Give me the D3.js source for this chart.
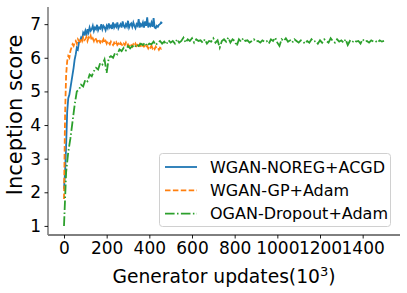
<!DOCTYPE html>
<html><head><meta charset="utf-8">
<script src="https://cdn.jsdelivr.net/npm/d3@7"></script>
<style>body{margin:0;background:#fff}svg{display:block;font-family:"DejaVu Sans",sans-serif}</style>
</head><body><svg id="c" width="407" height="293"></svg>
<script>
const seriesNames = ["WGAN-NOREG+ACGD", "WGAN-GP+Adam", "OGAN-Dropout+Adam"];
const xTicks = [0, 200, 400, 600, 800, 1000, 1200, 1400];
const yTicks = [1, 2, 3, 4, 5, 6, 7];
// sampling interval (10^3 generator updates) for each series
const blueStep = 5, orangeStep = 5, greenStep = 10;
const blueVals = [
 2.1,2.6,3.4,4.4,4.8,4.9,5.1,5.3,5.5,5.7,
 5.95,6.1,6.3,6.25,6.45,6.5,6.6,6.55,6.75,6.7,
 6.8,6.65,6.85,6.75,6.9,6.8,6.85,6.95,6.8,6.9,
 6.85,6.98,6.82,6.9,6.87,7.0,6.85,6.95,6.9,6.82,
 6.95,6.88,7.02,6.9,6.95,6.86,7.05,6.9,6.98,6.92,
 7.05,6.88,6.95,7.0,6.9,7.08,6.95,6.9,7.0,6.93,
 7.1,6.9,6.98,7.02,6.92,7.05,6.95,6.88,7.0,6.95,
 7.15,6.9,7.0,6.95,7.05,6.9,7.08,6.95,7.2,6.9,
 7.0,6.95,7.05,6.92,7.18,6.9,6.88,6.95,6.92,6.98,
 7.0,7.05,7.02];
const orangeVals = [
 1.8,4.3,5.5,5.9,6.05,6.0,6.2,6.3,6.4,6.35,
 6.45,6.5,6.42,6.55,6.5,6.48,6.58,6.5,6.6,6.52,
 6.55,6.62,6.5,6.6,6.55,6.65,6.52,6.58,6.5,6.6,
 6.55,6.48,6.56,6.5,6.45,6.53,6.48,6.55,6.45,6.5,
 6.42,6.5,6.45,6.4,6.48,6.42,6.38,6.45,6.4,6.46,
 6.38,6.42,6.36,6.44,6.4,6.35,6.42,6.38,6.45,6.36,
 6.4,6.34,6.42,6.38,6.33,6.4,6.36,6.42,6.35,6.38,
 6.32,6.4,6.35,6.3,6.38,6.33,6.36,6.3,6.35,6.28,
 6.34,6.3,6.36,6.28,6.32,6.26,6.33,6.28,6.3,6.24,
 6.3,6.27,6.32];
const greenVals = [
 1.0,2.6,3.2,3.6,4.1,4.6,5.0,5.05,5.2,5.15,
 5.35,5.3,5.5,5.45,5.6,5.7,5.65,5.85,5.8,5.95,
 5.55,6.0,6.05,6.0,6.15,6.1,6.25,6.2,6.3,6.22,
 6.35,6.28,6.35,6.3,6.4,6.35,6.42,6.38,6.45,6.35,
 6.42,6.4,6.48,6.38,6.45,6.5,6.42,6.48,6.4,6.52,
 6.45,6.5,6.42,6.55,6.45,6.5,6.6,6.45,6.55,6.5,
 6.58,6.45,6.55,6.5,6.52,6.45,6.55,6.42,6.5,6.48,
 6.58,6.45,6.52,6.3,6.5,6.55,6.48,6.6,6.45,6.55,
 6.5,6.35,6.55,6.48,6.58,6.5,6.52,6.45,6.5,6.55,
 6.48,6.5,6.45,6.52,6.48,6.5,6.42,6.55,6.5,6.6,
 6.45,6.35,6.55,6.5,6.58,6.48,6.52,6.45,6.55,6.5,
 6.45,6.52,6.48,6.42,6.5,6.45,6.55,6.48,6.5,6.42,
 6.52,6.45,6.55,6.5,6.45,6.58,6.5,6.45,6.55,6.48,
 6.52,6.45,6.55,6.38,6.5,6.45,6.52,6.48,6.5,6.42,
 6.55,6.48,6.5,6.45,6.52,6.48,6.5,6.45,6.52,6.48,
 6.5];
const colors = ["#1f77b4", "#ff7f0e", "#2ca02c"];
const dashes = [null, "5.5,2.4", "9.6,2.4,1.5,2.4"];

const svg = d3.select("#c");
const L = 48, R = 400, T = 7, B = 235;
const x = d3.scaleLinear().domain([-75, 1575]).range([L, R]);
const y = d3.scaleLinear().domain([0.73, 7.51]).range([B, T]);

const series = [
  blueVals.map((v, i) => [i * blueStep, v]),
  orangeVals.map((v, i) => [i * orangeStep, v]),
  greenVals.map((v, i) => [i * greenStep, v])
];
const line = d3.line().x(d => x(d[0])).y(d => y(d[1]));
series.forEach((s, i) => {
  svg.append("path").datum(s).attr("d", line)
    .attr("fill", "none").attr("stroke", colors[i]).attr("stroke-width", 1.8)
    .attr("stroke-dasharray", dashes[i]);
});

const xAxis = svg.append("g").attr("transform", `translate(0,${B})`)
  .call(d3.axisBottom(x).tickValues(xTicks).tickSize(3.5).tickPadding(3.5).tickFormat(d3.format("d")));
const yAxis = svg.append("g").attr("transform", `translate(${L},0)`)
  .call(d3.axisLeft(y).tickValues(yTicks).tickSize(3.5).tickPadding(3.5).tickFormat(d3.format("d")));
[xAxis, yAxis].forEach(g => {
  g.selectAll("text").attr("font-size", 17).attr("fill", "#000").attr("font-family", "DejaVu Sans");
  g.selectAll(".tick line").attr("stroke", "#000").attr("stroke-width", 0.9);
});
xAxis.select(".domain").attr("d", `M${L},0H${R}`).attr("stroke", "#000").attr("stroke-width", 1);
yAxis.select(".domain").attr("d", `M0,${T}V${B}`).attr("stroke", "#808080").attr("stroke-width", 1.6);

const xl = svg.append("text").attr("x", (L + R) / 2).attr("y", 283).attr("text-anchor", "middle")
  .attr("font-size", 18.7).attr("fill", "#000");
xl.append("tspan").text("Generator updates(10");
xl.append("tspan").attr("dy", -7).attr("font-size", 13).text("3");
xl.append("tspan").attr("dy", 7).text(")");
svg.append("text").attr("transform", `translate(22,${(T + B) / 2 - 6}) rotate(-90)`)
  .attr("text-anchor", "middle").attr("font-size", 21).attr("fill", "#000").text("Inception score");

const lg = svg.append("g");
lg.append("rect").attr("x", 159.5).attr("y", 153.5).attr("width", 231).attr("height", 73)
  .attr("rx", 3).attr("fill", "#fff").attr("fill-opacity", 0.8).attr("stroke", "#d0d0d0").attr("stroke-width", 1);
seriesNames.forEach((n, i) => {
  const cy = 167 + i * 23.3;
  lg.append("line").attr("x1", 165).attr("x2", 197).attr("y1", cy).attr("y2", cy)
    .attr("stroke", colors[i]).attr("stroke-width", 1.8).attr("stroke-dasharray", dashes[i]);
  lg.append("text").attr("x", 210).attr("y", cy + 5.8).attr("font-size", 16).attr("fill", "#000").text(n);
});
</script></body></html>
